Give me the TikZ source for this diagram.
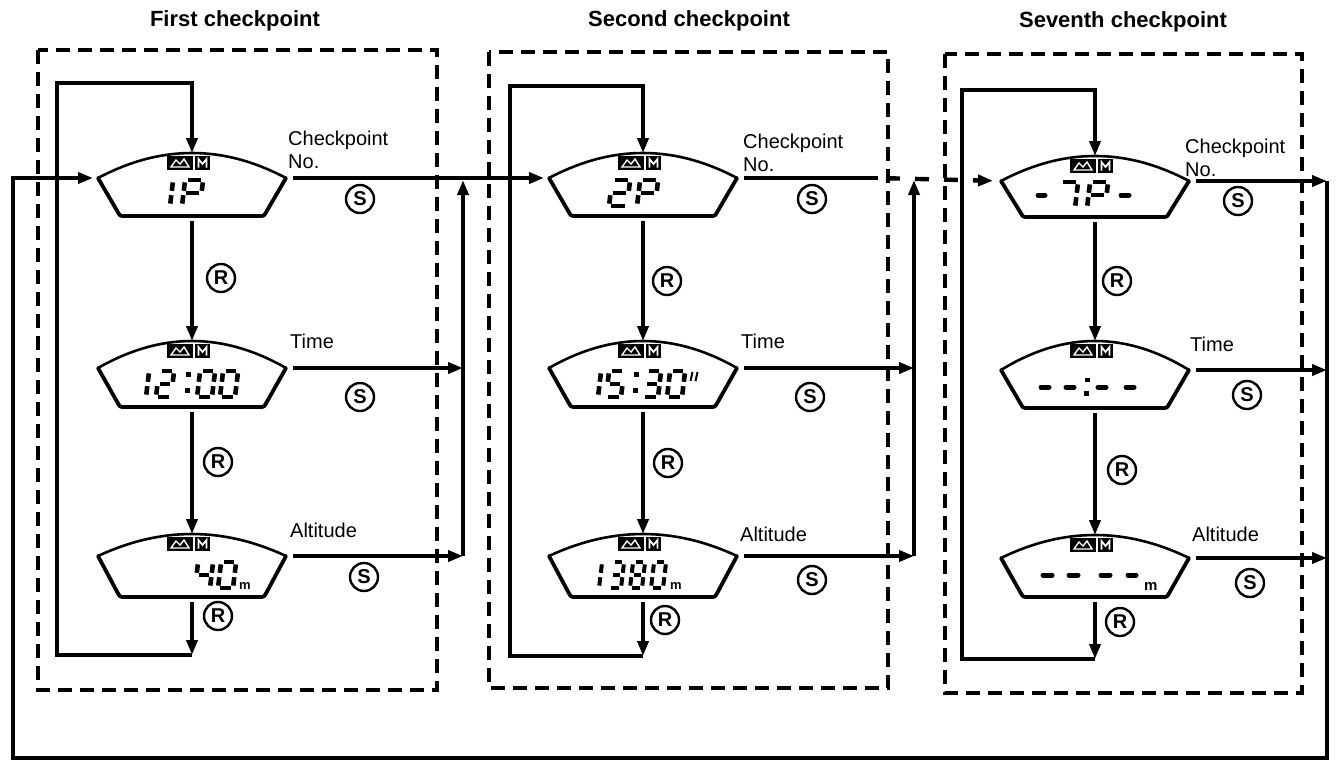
\documentclass[tikz,border=0pt]{standalone}
\usepackage{fontspec}
\setmainfont{Liberation Sans}
\usetikzlibrary{arrows.meta}
\tikzset{
  flow/.style={line width=4.4pt,-{Triangle[length=15pt,width=11pt]}},
  plain/.style={line width=4.4pt},
  cpbox/.style={line width=3.4pt,dash pattern=on 14pt off 8pt},
  lcdline/.style={line width=3.8pt,line join=round,line cap=round},
  lcdarc/.style={line width=2.6pt,line cap=round},
  seg/.style={line width=4.6pt,line cap=butt},
  thinseg/.style={line width=4pt,line cap=butt},
  dashseg/.style={line width=5pt,line cap=round},
  lbl/.style={font=\fontsize{20}{23}\selectfont,anchor=north west,inner sep=0pt,align=left},
  ttl/.style={font=\bfseries\fontsize{22}{26}\selectfont,inner sep=0pt},
  btn/.style={circle,draw,line width=2.4pt,minimum size=28pt,inner sep=0pt,font=\bfseries\fontsize{20}{20}\selectfont},
  unit/.style={font=\bfseries\fontsize{13}{13}\selectfont,inner sep=0pt,anchor=base west},
}
\newcommand\lcd[5]{%
  \draw[lcdarc] ({#2-94},#4) .. controls ({#2-31},{#4-4/3*(#4-#3)}) and ({#2+31},{#4-4/3*(#4-#3)}) .. ({#2+94},#4);
  \draw[lcdline] ({#2-94},#4) -- ({#2-74.5},{#5-4.5}) .. controls ({#2-72},#5) .. ({#2-67},#5) -- ({#2+67},#5) .. controls ({#2+72},#5) .. ({#2+74.5},{#5-4.5}) -- ({#2+94},#4);
  \fill ({#2-25},{#3+3}) rectangle ({#2+1},{#3+17});
  \fill ({#2+3},{#3+3}) rectangle ({#2+18},{#3+17});
  \draw[white,line width=1.4pt] ({#2-21},{#3+14}) -- ({#2-16},{#3+7}) -- ({#2-12},{#3+11}) -- ({#2-8},{#3+6}) -- ({#2-3},{#3+14}) -- cycle;
  \draw[white,line width=1.7pt] ({#2+6.5},{#3+14.5}) -- ({#2+6.5},{#3+6}) -- ({#2+10.5},{#3+11}) -- ({#2+14.5},{#3+6}) -- ({#2+14.5},{#3+14.5});
  \coordinate (#1w) at ({#2-94},#4);
  \coordinate (#1e) at ({#2+94},#4);
  \coordinate (#1n) at (#2,#3);
  \coordinate (#1s) at (#2,#5);
}
\def\dw{14}
\def\sgst{seg}
\def\sga{\draw[\sgst] (2.4,26) -- ({\dw-2.4},26);}
\def\sgb{\draw[\sgst] (\dw,23.6) -- (\dw,15.2);}
\def\sgc{\draw[\sgst] (\dw,10.8) -- (\dw,2.4);}
\def\sgd{\draw[\sgst] (2.4,0) -- ({\dw-2.4},0);}
\def\sge{\draw[\sgst] (0,2.4) -- (0,10.8);}
\def\sgf{\draw[\sgst] (0,15.2) -- (0,23.6);}
\def\sgg{\draw[\sgst] (2.4,13) -- ({\dw-2.4},13);}
\newcommand\sdig[4]{%
  \begin{scope}[shift={(#2,#3)},x=1pt,y=1pt,xslant=0.12]
    \def\dw{#1}
    \foreach \q in {#4}{\csname sg\q\endcsname}
  \end{scope}}
\newcommand\sdignarrow[4]{%
  \begin{scope}[shift={(#2,#3)},x=1pt,y=1pt,xslant=0.12]
    \def\dw{#1}\def\sgst{thinseg}
    \foreach \q in {#4}{\csname sg\q\endcsname}
  \end{scope}}
\begin{document}
\begin{tikzpicture}[x=1pt,y=-1pt]
\useasboundingbox (0,0) rectangle (1339,764);
% titles
\node[ttl] (t1) at (235,21) {First checkpoint};
\node[ttl] (t2) at (689,21) {Second checkpoint};
\node[ttl] (t3) at (1123,22) {Seventh checkpoint};
% checkpoint boxes
\draw[cpbox] (38,50) rectangle (437,690);
\draw[cpbox] (489,52) rectangle (888,688);
\draw[cpbox] (945,54) rectangle (1302,693);
% displays
\lcd{d11}{192}{153}{178}{216}
\lcd{d12}{192}{341}{368}{407}
\lcd{d13}{192}{534}{556}{597}
\lcd{d21}{643}{153}{178}{216}
\lcd{d22}{643}{341}{368}{407}
\lcd{d23}{643}{534}{556}{597}
\lcd{d31}{1095}{156}{181}{217}
\lcd{d32}{1095}{341}{370}{408}
\lcd{d33}{1095}{535}{558}{597}
% digits column 1
\sdig{18}{152}{206}{b,c}
\sdig{18}{182}{206}{a,b,f,g,e}
\sdig{15}{131}{397}{b,c}
\sdig{15}{156}{397}{a,b,g,e,d}
\fill (186,372) rectangle (191,377);
\fill (185,388) rectangle (190,393);
\sdig{15}{197}{397}{a,b,c,d,e,f}
\sdig{15}{220}{397}{a,b,c,d,e,f}
\sdig{15}{195}{588}{f,g,b,c}
\sdig{15}{218}{588}{a,b,c,d,e,f}
\node[unit] (u13) at (239,589) {m};
% digits column 2
\sdig{18}{609}{206}{a,b,g,e,d}
\sdig{18}{637}{206}{a,b,f,g,e}
\sdig{15}{583}{397}{b,c}
\sdig{15}{606}{397}{a,f,g,c,d}
\fill (634,372) rectangle (639,377);
\fill (633,388) rectangle (638,393);
\sdig{15}{643}{397}{a,b,g,c,d}
\sdig{15}{667}{397}{a,b,c,d,e,f}
\draw[line width=2pt] (690.5,381) -- (692.5,372) (695.5,381) -- (697.5,372);
\sdignarrow{12}{587}{588}{b,c}
\sdignarrow{12}{609}{588}{a,b,g,c,d}
\sdignarrow{12}{630}{588}{a,b,c,d,e,f,g}
\sdignarrow{12}{651}{588}{a,b,c,d,e,f}
\node[unit] (u23) at (670,589) {m};
% digits column 3
\draw[dashseg] (1038,195) -- (1045,195);
\sdig{18}{1057}{208}{a,b,c}
\sdig{18}{1087}{208}{a,b,f,g,e}
\draw[dashseg] (1121,195) -- (1129,195);
\draw[dashseg] (1041,387) -- (1049,387);
\draw[dashseg] (1066,387) -- (1074,387);
\fill (1085,377.5) rectangle (1089.5,382);
\fill (1084,391) rectangle (1088.5,395.5);
\draw[dashseg] (1098,387) -- (1106,387);
\draw[dashseg] (1126,387) -- (1134,387);
\draw[dashseg] (1043,575) -- (1052,575);
\draw[dashseg] (1069,575) -- (1078,575);
\draw[dashseg] (1101,575) -- (1110,575);
\draw[dashseg] (1128,575) -- (1136,575);
\node[unit,font=\bfseries\fontsize{15}{15}\selectfont] (u33) at (1144,590) {m};
% inner loops
\coordinate (b1) at (192,655); \coordinate (bl1) at (57,655);
\coordinate (tl1) at (57,83); \coordinate (tc1) at (192,83);
\draw[flow,shorten <=5pt] (d11s) -- (d12n);
\draw[flow,shorten <=5pt] (d12s) -- (d13n);
\draw[flow,shorten <=5pt] (d13s) -- (b1);
\draw[flow] (b1) -- (bl1) -- (tl1) -- (tc1) -- (d11n);
\coordinate (b2) at (643,656); \coordinate (bl2) at (510,656);
\coordinate (tl2) at (510,86); \coordinate (tc2) at (643,86);
\draw[flow,shorten <=5pt] (d21s) -- (d22n);
\draw[flow,shorten <=5pt] (d22s) -- (d23n);
\draw[flow,shorten <=5pt] (d23s) -- (b2);
\draw[flow] (b2) -- (bl2) -- (tl2) -- (tc2) -- (d21n);
\coordinate (b3) at (1095,659); \coordinate (bl3) at (962,659);
\coordinate (tl3) at (962,90); \coordinate (tc3) at (1095,90);
\draw[flow,shorten <=5pt] (d31s) -- (d32n);
\draw[flow,shorten <=5pt] (d32s) -- (d33n);
\draw[flow,shorten <=5pt] (d33s) -- (b3);
\draw[flow] (b3) -- (bl3) -- (tl3) -- (tc3) -- (d31n);
% S connections column 1
\coordinate (v1t) at (463,178); \coordinate (v1m) at (463,368); \coordinate (v1b) at (463,556);
\draw[flow,shorten <=7pt,shorten >=5pt] (d11e) -- (d21w);
\draw[flow,shorten <=7pt] (d12e) -- (v1m);
\draw[flow,shorten <=7pt] (d13e) -- (v1b);
\draw[flow,shorten >=2pt] (v1b) -- (v1t);
% S connections column 2
\coordinate (v2t) at (914,178); \coordinate (v2m) at (914,368); \coordinate (v2b) at (914,556);
\coordinate (ds) at (878,178);
\draw[plain,shorten <=7pt] (d21e) -- (ds);
\draw[flow,dash pattern=on 0pt off 8pt on 14pt off 7pt,shorten >=8pt] (ds) -- (d31w);
\draw[flow,shorten <=7pt] (d22e) -- (v2m);
\draw[flow,shorten <=7pt] (d23e) -- (v2b);
\draw[flow,shorten >=2pt] (v2b) -- (v2t);
% S connections column 3 and return
\coordinate (v3t) at (1327,181); \coordinate (v3m) at (1327,370); \coordinate (v3b) at (1327,558);
\coordinate (v3z) at (1327,758); \coordinate (lz) at (13,758); \coordinate (lt) at (13,178);
\draw[flow,shorten <=7pt] (d31e) -- (v3t);
\draw[flow,shorten <=7pt] (d32e) -- (v3m);
\draw[flow,shorten <=7pt] (d33e) -- (v3b);
\draw[flow,shorten >=5pt] (v3t) -- (v3z) -- (lz) -- (lt) -- (d11w);
% labels
\node[lbl] (l11) at (288,131) {Checkpoint\\No.};
\node[lbl] (l12) at (290,334) {Time};
\node[lbl] (l13) at (290,523) {Altitude};
\node[lbl] (l21) at (743,134) {Checkpoint\\No.};
\node[lbl] (l22) at (741,334) {Time};
\node[lbl] (l23) at (740,527) {Altitude};
\node[lbl] (l31) at (1185,139) {Checkpoint\\No.};
\node[lbl] (l32) at (1190,337) {Time};
\node[lbl] (l33) at (1192,527) {Altitude};
% buttons
\node[btn] (s11) at (360,199) {S};
\node[btn] (s12) at (360,397) {S};
\node[btn] (s13) at (364,577) {S};
\node[btn] (s21) at (812,199) {S};
\node[btn] (s22) at (810,397) {S};
\node[btn] (s23) at (812,580) {S};
\node[btn] (s31) at (1238,201) {S};
\node[btn] (s32) at (1247,395) {S};
\node[btn] (s33) at (1250,583) {S};
\node[btn] (r11) at (221,278) {R};
\node[btn] (r12) at (218,462) {R};
\node[btn] (r13) at (218,616) {R};
\node[btn] (r21) at (667,281) {R};
\node[btn] (r22) at (668,463) {R};
\node[btn] (r23) at (665,620) {R};
\node[btn] (r31) at (1117,281) {R};
\node[btn] (r32) at (1122,470) {R};
\node[btn] (r33) at (1120,622) {R};
\end{tikzpicture}
\end{document}
